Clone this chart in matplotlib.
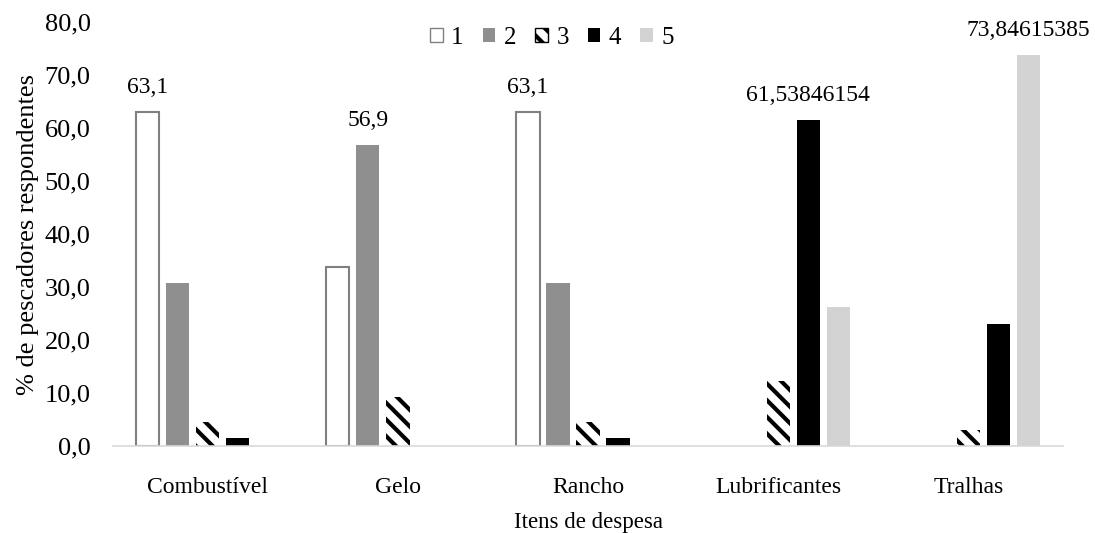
import matplotlib
matplotlib.use("Agg")
import matplotlib.pyplot as plt
import numpy as np

plt.rcParams['font.family'] = ['Liberation Serif', 'DejaVu Serif']
plt.rcParams['hatch.linewidth'] = 3.0

categories = ["Combustível", "Gelo", "Rancho", "Lubrificantes", "Tralhas"]
series_names = ["1", "2", "3", "4", "5"]
s1 = [63.1, 33.8, 63.1, 0.0, 0.0]
s2 = [30.8, 56.9, 30.8, 0.0, 0.0]
s3 = [4.6, 9.2, 4.6, 12.3, 3.1]
s4 = [1.5, 0.0, 1.5, 61.53846154, 23.1]
s5 = [0.0, 0.0, 0.0, 26.2, 73.84615385]
series = [s1, s2, s3, s4, s5]
# labels shown on chart: (series index, category index, text)
value_labels = [(0, 0, "63,1"), (1, 1, "56,9"), (0, 2, "63,1"),
                (3, 3, "61,53846154"), (4, 4, "73,84615385")]
yticks = [0, 10, 20, 30, 40, 50, 60, 70, 80]

fig = plt.figure(figsize=(10.95, 5.33), dpi=100)
ax = fig.add_axes([0.103, 0.163, 0.868, 0.795])

x = np.arange(len(categories))
slot = 0.158
width = 0.122
styles = [
    dict(facecolor="white", edgecolor="#808080"),
    dict(facecolor="#8f8f8f", edgecolor="none"),
    dict(facecolor="white", edgecolor="black", hatch="\\\\"),
    dict(facecolor="black", edgecolor="none"),
    dict(facecolor="#d3d3d3", edgecolor="none"),
]
base_lw = [1.5, 0, 0, 0, 0]
for i, (vals, st) in enumerate(zip(series, styles)):
    offs = (i - 2) * slot
    lws = [base_lw[i] if v > 0 else 0 for v in vals]
    ax.bar(x + offs, vals, width, label=series_names[i], linewidth=lws, **st)

for si, ci, txt in value_labels:
    v = series[si][ci]
    ax.text(x[ci] + (si - 2) * slot, v + 2.6, txt, ha="center", va="bottom",
            fontsize=17)

ax.set_ylim(0, 80)
ax.set_xlim(-0.5, len(categories) - 0.5)
ax.set_yticks(yticks)
ax.set_yticklabels([f"{t:.1f}".replace(".", ",") for t in yticks], fontsize=19)
ax.set_xticks(x)
ax.set_xticklabels(categories, fontsize=17)
ax.tick_params(axis="y", length=0, pad=16)
ax.tick_params(axis="x", length=0, pad=22)
for s in ["top", "right", "left"]:
    ax.spines[s].set_visible(False)
ax.spines["bottom"].set_color("#d9d9d9")
ax.spines["bottom"].set_linewidth(1.2)

ax.set_ylabel("% de pescadores respondentes", fontsize=19, labelpad=4)
ax.set_xlabel("Itens de despesa", fontsize=16.5, labelpad=10)

leg = ax.legend(loc="center", bbox_to_anchor=(0.462, 0.963), ncol=5,
                frameon=False, fontsize=18, handlelength=0.5, handleheight=0.5,
                handletextpad=0.35, columnspacing=0.75)
for h in leg.legend_handles:
    h.set_linewidth(1.0)

fig.savefig("out.png", dpi=100)
